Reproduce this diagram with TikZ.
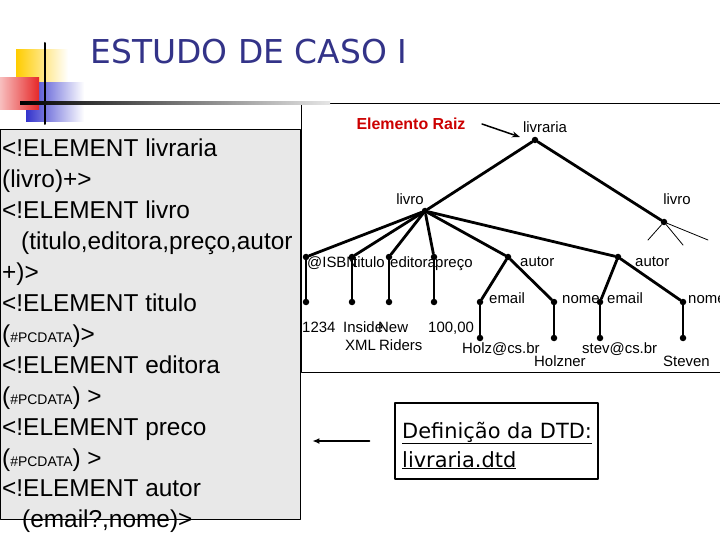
\documentclass[tikz,border=0pt]{standalone}
\usepackage{fontspec}
\setmainfont{Liberation Sans}
\newfontfamily\slidefont{DejaVu Sans}
\usetikzlibrary{arrows.meta,calc}

\definecolor{titleblue}{RGB}{51,51,136}
\definecolor{raizred}{RGB}{204,0,0}
\definecolor{dtdgray}{RGB}{232,232,232}
\definecolor{logoyellow}{RGB}{255,204,0}
\definecolor{logored}{RGB}{230,40,40}
\definecolor{logoblue}{RGB}{51,51,204}

\newcommand{\pcdata}{{\fontsize{14}{14}\selectfont\#PCDATA}}

\tikzset{
	dot/.style={circle, fill=black, inner sep=0pt, minimum size=6.5bp},
	edge/.style={line width=2.8bp},
	twig/.style={line width=0.8bp},
	lbl/.style={font=\fontsize{15}{19}\selectfont, inner sep=0pt, anchor=base west},
	dtdline/.style={font=\fontsize{24.5}{30}\selectfont, inner sep=0pt, anchor=base west},
}

\begin{document}
\begin{tikzpicture}[x=1bp, y=-1bp, >=Latex, line cap=round, line join=round]
	
	\useasboundingbox (0,0) rectangle (720,540);
	\clip (0,0) rectangle (720,540);
	
	% ---- logo and title ----
	\shade[left color=logoyellow, middle color=logoyellow, right color=white] (16,50) rectangle (68,88);
	\shade[left color=logoblue, middle color=logoblue, right color=white] (26,83) rectangle (84,122);
	\shade[left color=logored!30, right color=logored] (0,78) rectangle (39,110);
	\draw[line width=2bp] (45,43) -- (45,124);
	
	\node[font=\slidefont\fontsize{33}{40}\selectfont, text=titleblue] (title) at (249,52) {ESTUDO DE CASO I};
	
	% ---- tree frame ----
	\draw[fill=white] (301.5,103) rectangle (740,372);
	\shade[left color=black, right color=black!10] (20,101.5) rectangle (330,104.5);
	
	% ---- DTD listing ----
	\node[draw, fill=dtdgray, minimum width=300bp, minimum height=390bp,
	anchor=north west, inner sep=0pt] (dtd) at (0,129) {};
	
	\node[dtdline] (dtd1) at (2,157) {<!ELEMENT livraria};
	\node[dtdline] (dtd2) at (2,187.9) {(livro)+>};
	\node[dtdline] (dtd3) at (2,218.8) {<!ELEMENT livro};
	\node[dtdline] (dtd4) at (21,249.7) {(titulo,editora,preço,autor};
	\node[dtdline] (dtd5) at (2,280.6) {+)>};
	\node[dtdline] (dtd6) at (2,311.5) {<!ELEMENT titulo};
	\node[dtdline] (dtd7) at (2,342.4) {(\pcdata)>};
	\node[dtdline] (dtd8) at (2,373.3) {<!ELEMENT editora};
	\node[dtdline] (dtd9) at (2,404.2) {(\pcdata) >};
	\node[dtdline] (dtd10) at (2,435.1) {<!ELEMENT preco};
	\node[dtdline] (dtd11) at (2,466) {(\pcdata) >};
	\node[dtdline] (dtd12) at (2,496.9) {<!ELEMENT autor};
	\node[dtdline] (dtd13) at (22,527.8) {(email?,nome)>};
	
	% ---- tree: dots ----
	\node[dot] (root) at (535,140) {};
	\node[dot] (livA) at (425,211) {};
	\node[dot] (livB) at (664,222) {};
	
	\node[dot] (isbn) at (306,257) {};
	\node[dot] (tit) at (352,257) {};
	\node[dot] (edi) at (389,257) {};
	\node[dot] (pre) at (434,257) {};
	\node[dot] (autA) at (508,257) {};
	\node[dot] (autB) at (618,257) {};
	
	\node[dot] (isbnV) at (306,302) {};
	\node[dot] (titV) at (352,302) {};
	\node[dot] (ediV) at (389,302) {};
	\node[dot] (preV) at (434,302) {};
	\node[dot] (emA) at (480,302) {};
	\node[dot] (nmA) at (554,302) {};
	\node[dot] (emB) at (600,302) {};
	\node[dot] (nmB) at (683,302) {};
	
	\node[dot] (emAV) at (480,338) {};
	\node[dot] (nmAV) at (554,338) {};
	\node[dot] (emBV) at (600,338) {};
	\node[dot] (nmBV) at (683,338) {};
	
	% ---- tree: edges ----
	\draw[edge] (root) -- (livA);
	\draw[edge] (root) -- (livB);
	\foreach \c in {isbn,tit,edi,pre,autA,autB}
	\draw[edge] (livA) -- (\c);
	\foreach \a/\b in {isbn/isbnV, tit/titV, edi/ediV, pre/preV,
		autA/emA, autA/nmA, autB/emB, autB/nmB,
		emA/emAV, nmA/nmAV, emB/emBV, nmB/nmBV}
	\draw[edge] (\a) -- (\b);
	
	% second livro, only hinted
	\coordinate (tw1) at (648,240);
	\coordinate (tw2) at (683,245);
	\coordinate (tw3) at (708,240);
	\foreach \t in {tw1,tw2,tw3}
	\draw[twig] (livB) -- (\t);
	
	% ---- tree: labels (baselines) ----
	\node[lbl, anchor=base] (rootlbl) at (545,133) {livraria};
	\node[lbl, anchor=base] (livAlbl) at (410,205) {livro};
	\node[lbl, anchor=base] (livBlbl) at (677,205) {livro};
	
	\node[lbl] (isbnlbl) at (307,267.5) {@ISBN};
	\node[lbl] (titlbl) at (353,267.5) {titulo};
	\node[lbl] (edilbl) at (390,267.5) {editora};
	\node[lbl] (prelbl) at (435,267.5) {preço};
	\node[lbl] (autAlbl) at (520,267) {autor};
	\node[lbl] (autBlbl) at (635,267) {autor};
	
	\node[lbl] (emAlbl) at (489,303) {email};
	\node[lbl] (nmAlbl) at (562,303) {nome};
	\node[lbl] (emBlbl) at (607,303) {email};
	\node[lbl] (nmBlbl) at (688,303) {nome};
	
	\node[lbl] (isbnval) at (302,332) {1234};
	\node[lbl] (titval) at (343,332) {Inside};
	\node[lbl] (titval2) at (345,350) {XML};
	\node[lbl] (edival) at (378,332) {New};
	\node[lbl] (edival2) at (379,350) {Riders};
	\node[lbl] (preval) at (428,332) {100,00};
	\node[lbl] (emAval) at (462,353) {Holz@cs.br};
	\node[lbl] (nmAval) at (534,366.5) {Holzner};
	\node[lbl] (emBval) at (582,353) {stev@cs.br};
	\node[lbl] (nmBval) at (663,366) {Steven};
	
	% root marker
	\node[font=\bfseries\fontsize{16}{19}\selectfont, text=raizred] (raiz) at (411,124) {Elemento Raiz};
	\coordinate (raizTip) at (520,137);
	\draw[line width=1.5bp, -{Stealth[length=8bp, width=6bp]}] ([xshift=13bp]raiz.east) -- (raizTip);
	
	% ---- note ----
	\node[draw, line width=1.2bp, minimum width=203bp, minimum height=76bp] (note) at (496.5,441) {};
	\node[font=\slidefont\fontsize{21}{29}\selectfont, align=left, inner sep=0pt, anchor=base west]
	(notetxt) at (402,467) {\underline{Definição da DTD:}\\\underline{livraria.dtd}};
	\draw[line width=2bp, -{Latex[length=7bp, width=6bp]}, shorten <=25bp, shorten >=12bp]
	(note.west) -- (note.west -| dtd.east);
	
\end{tikzpicture}
\end{document}
